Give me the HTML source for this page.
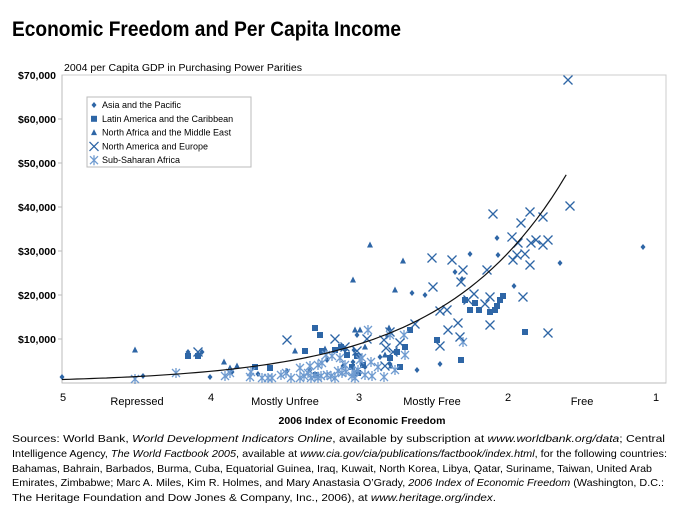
<!DOCTYPE html>
<html><head><meta charset="utf-8"><style>
body{margin:0;background:#fff}
svg{display:block;font-family:"Liberation Sans",sans-serif}
</style></head><body>
<svg id="s" width="681" height="521" viewBox="0 0 681 521">
<text x="12" y="36" font-size="21" font-weight="bold" textLength="389" lengthAdjust="spacingAndGlyphs">Economic Freedom and Per Capita Income</text>
<text x="64" y="71" font-size="10" textLength="238" lengthAdjust="spacingAndGlyphs">2004 per Capita GDP in Purchasing Power Parities</text>
<rect x="62" y="75" width="604" height="308" fill="none" stroke="#ccc" stroke-width="1"/>
<line x1="62" y1="75" x2="62" y2="383" stroke="#bbb"/>
<line x1="62" y1="383" x2="666" y2="383" stroke="#bbb"/>
<g font-size="10.5" font-weight="bold" text-anchor="end">
<text x="56" y="79">$70,000</text><text x="56" y="123">$60,000</text><text x="56" y="167">$50,000</text>
<text x="56" y="211">$40,000</text><text x="56" y="255">$30,000</text><text x="56" y="299">$20,000</text><text x="56" y="343">$10,000</text>
</g>
<g stroke="#bbb"><line x1="58" y1="119" x2="62" y2="119"/><line x1="58" y1="163" x2="62" y2="163"/><line x1="58" y1="207" x2="62" y2="207"/><line x1="58" y1="251" x2="62" y2="251"/><line x1="58" y1="295" x2="62" y2="295"/><line x1="58" y1="339" x2="62" y2="339"/></g>
<g font-size="11" text-anchor="middle">
<text x="63" y="401">5</text><text x="211" y="401">4</text><text x="359" y="401">3</text><text x="508" y="401">2</text><text x="656" y="401">1</text>
<text x="137" y="405">Repressed</text><text x="285" y="405">Mostly Unfree</text><text x="432" y="405">Mostly Free</text><text x="582" y="405">Free</text>
<text x="362" y="424" font-weight="bold" font-size="10.5">2006 Index of Economic Freedom</text>
</g>
<g id="pts"></g>
<path id="curve" fill="none" stroke="#111" stroke-width="1.2"/>
<rect x="87" y="97" width="164" height="70" fill="#fff" stroke="#bbb"/>
<g id="leg" font-size="9"></g>
<g font-size="10.3">
<text x="12" y="442" textLength="653" lengthAdjust="spacingAndGlyphs">Sources: World Bank, <tspan font-style="italic">World Development Indicators Online</tspan>, available by subscription at <tspan font-style="italic">www.worldbank.org/data</tspan>; Central</text>
<text x="12" y="457" textLength="655" lengthAdjust="spacingAndGlyphs">Intelligence Agency, <tspan font-style="italic">The World Factbook 2005</tspan>, available at <tspan font-style="italic">www.cia.gov/cia/publications/factbook/index.html</tspan>, for the following countries:</text>
<text x="12" y="472" textLength="640" lengthAdjust="spacingAndGlyphs">Bahamas, Bahrain, Barbados, Burma, Cuba, Equatorial Guinea, Iraq, Kuwait, North Korea, Libya, Qatar, Suriname, Taiwan, United Arab</text>
<text x="12" y="486" textLength="652" lengthAdjust="spacingAndGlyphs">Emirates, Zimbabwe; Marc A. Miles, Kim R. Holmes, and Mary Anastasia O’Grady, <tspan font-style="italic">2006 Index of Economic Freedom</tspan> (Washington, D.C.:</text>
<text x="12" y="501" textLength="484" lengthAdjust="spacingAndGlyphs">The Heritage Foundation and Dow Jones &amp; Company, Inc., 2006), at <tspan font-style="italic">www.heritage.org/index</tspan>.</text>
</g>
</svg>
<script>
var NS="http://www.w3.org/2000/svg",D="#2e66a6",L="#6f9bd0";
function mk(t,a,p){var e=document.createElementNS(NS,t);for(var k in a)e.setAttribute(k,a[k]);p.appendChild(e);return e}
function m(type,x,y,p){
 if(type==0)mk("path",{d:"M"+x+" "+(y-3)+"L"+(x+2.5)+" "+y+"L"+x+" "+(y+3)+"L"+(x-2.5)+" "+y+"Z",fill:D},p);
 else if(type==1)mk("rect",{x:x-3,y:y-3,width:6,height:6,fill:D},p);
 else if(type==2)mk("path",{d:"M"+x+" "+(y-3.5)+"L"+(x+3)+" "+(y+2.5)+"L"+(x-3)+" "+(y+2.5)+"Z",fill:D},p);
 else if(type==3)mk("path",{d:"M"+(x-4.5)+" "+(y-4.5)+"L"+(x+4.5)+" "+(y+4.5)+"M"+(x+4.5)+" "+(y-4.5)+"L"+(x-4.5)+" "+(y+4.5),stroke:D,"stroke-width":1.3,fill:"none"},p);
 else mk("path",{d:"M"+(x-4)+" "+(y-4)+"L"+(x+4)+" "+(y+4)+"M"+(x+4)+" "+(y-4)+"L"+(x-4)+" "+(y+4)+"M"+x+" "+(y-5)+"L"+x+" "+(y+5),stroke:L,"stroke-width":1.3,fill:"none"},p);
}
var g=document.getElementById("pts");
var data=[
[0,[62,377,143,376,202,352,188,352,210,377,232,372,258,374,287,371,310,370,357,335,354,350,380,357,390,364,412,293,425,295,470,254,455,272,462,279,498,255,497,238,560,263,643,247,514,286,440,364,417,370,343,366,345,350,327,360,365,367,353,362]],
[1,[188,356,198,356,255,367,270,368,305,351,320,335,315,328,322,351,335,350,341,347,347,355,357,356,363,365,390,358,400,367,397,352,405,347,410,330,437,340,461,360,470,310,479,310,497,306,500,300,525,332,465,300,475,303,495,310,490,312,503,296,358,373,352,367,316,375]],
[2,[135,350,188,354,224,362,230,368,237,366,295,351,325,349,355,330,360,330,389,328,391,366,353,280,370,245,395,290,403,261,385,355,365,347]],
[4,[135,379,176,373,225,376,230,373,250,377,251,372,262,378,268,378,272,378,281,375,286,373,291,378,300,378,304,376,308,373,311,378,315,376,318,378,321,376,327,375,331,376,335,378,338,371,342,373,346,372,352,376,355,378,362,358,371,362,372,376,378,367,384,377,318,365,326,355,332,356,340,358,345,365,360,360,368,330,390,335,404,335,358,370,463,342,405,355,354,372,395,370,365,375,310,366,300,368,322,363]],
[3,[198,352,287,340,335,339,345,347,357,351,367,339,390,332,386,348,393,352,400,343,384,340,385,366,440,346,448,330,458,323,447,310,433,287,432,258,490,297,490,325,474,294,461,282,452,260,440,311,463,270,468,300,487,270,460,337,415,324,493,214,512,237,518,243,523,297,530,212,517,255,525,254,530,265,531,243,543,245,543,217,548,333,568,80,570,206,485,304,513,260,521,223,536,240,548,240]]];
data.forEach(function(s){for(var i=0;i<s[1].length;i+=2)m(s[0],s[1][i],s[1][i+1],g)});
var d="";for(var v=5;v>=1.6;v-=0.05){var x=62+(5-v)*148.3,y=383-0.0044*800*Math.exp(1.2*(5-v));d+=(d?"L":"M")+x.toFixed(1)+" "+y.toFixed(1)}
document.getElementById("curve").setAttribute("d",d);
var lg=document.getElementById("leg"),names=["Asia and the Pacific","Latin America and the Caribbean","North Africa and the Middle East","North America and Europe","Sub-Saharan Africa"];
names.forEach(function(n,i){var y=105+i*13.8;m(i,94,y,lg);var t=mk("text",{x:102,y:y+3},lg);t.textContent=n});
</script>
</body></html>
